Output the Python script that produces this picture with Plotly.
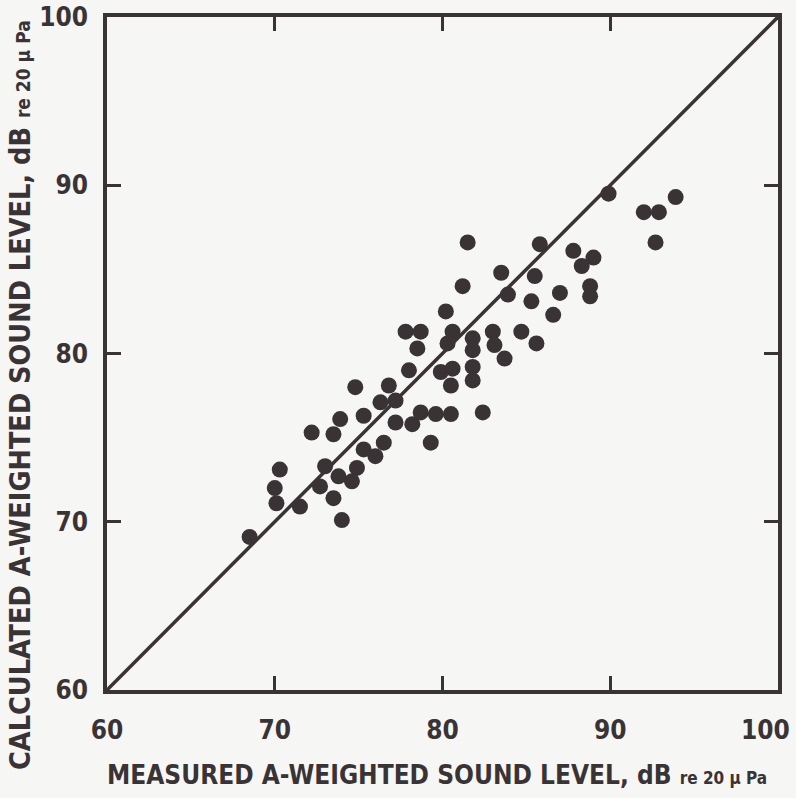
import plotly.graph_objects as go

# Measured (x) vs calculated (y) A-weighted sound level, dB re 20 uPa
measured = [68.5, 70.0, 70.1, 70.3, 71.5, 72.2, 72.7, 73.0, 73.5, 73.5,
            73.9, 74.0, 73.8, 74.6, 74.9, 75.3, 75.3, 76.0, 76.5, 74.8,
            76.3, 76.8, 77.2, 77.2, 78.0, 78.2, 78.7, 79.3, 79.6, 80.5,
            82.4, 77.8, 78.7, 78.5, 80.2, 80.6, 80.3, 81.8, 81.8, 83.0,
            83.1, 83.7, 79.9, 80.6, 81.8, 81.8, 80.5, 81.5, 81.2, 83.5,
            83.9, 85.8, 85.5, 85.3, 87.8, 89.0, 88.3, 87.0, 88.8, 88.8,
            86.6, 84.7, 85.6, 89.9, 93.9, 92.9, 92.0, 92.7]
calculated = [69.1, 72.0, 71.1, 73.1, 70.9, 75.3, 72.1, 73.3, 71.4, 75.2,
              76.1, 70.1, 72.7, 72.4, 73.2, 76.3, 74.3, 73.9, 74.7, 78.0,
              77.1, 78.1, 77.2, 75.9, 79.0, 75.8, 76.5, 74.7, 76.4, 76.4,
              76.5, 81.3, 81.3, 80.3, 82.5, 81.3, 80.6, 80.9, 80.2, 81.3,
              80.5, 79.7, 78.9, 79.1, 79.2, 78.4, 78.1, 86.6, 84.0, 84.8,
              83.5, 86.5, 84.6, 83.1, 86.1, 85.7, 85.2, 83.6, 84.0, 83.4,
              82.3, 81.3, 80.6, 89.5, 89.3, 88.4, 88.4, 86.6]

line_x = [60, 100]
line_y = [60, 100]
tick_vals = [60, 70, 80, 90, 100]
tick_text = ["60", "70", "80", "90", "100"]

x_title = "MEASURED A-WEIGHTED SOUND LEVEL, dB <span style='font-size:17px'>re 20 μ Pa</span>"
y_title = "CALCULATED A-WEIGHTED SOUND LEVEL, dB <span style='font-size:19px'>re 20 μ Pa</span>"

ink = "#3a3335"
bg = "#f6f6f4"
font_family = "DejaVu Sans Condensed, Liberation Sans Narrow, sans-serif"
tick_font = dict(family=font_family, size=26, color=ink, weight="bold")

fig = go.Figure()
fig.add_trace(go.Scatter(x=line_x, y=line_y, mode="lines",
                         line=dict(color=ink, width=3.5), hoverinfo="skip",
                         showlegend=False))
fig.add_trace(go.Scatter(x=measured, y=calculated, mode="markers",
                         marker=dict(color=ink, size=16, line=dict(width=0)),
                         showlegend=False))

axis_common = dict(
    tickvals=tick_vals, automargin=False,
    showgrid=False, zeroline=False, showline=True, linewidth=3.5,
    linecolor=ink, ticks="inside", ticklen=14, tickwidth=2.5, tickcolor=ink,
    mirror="ticks", ticklabeloverflow="allow", tickfont=tick_font,
)

# last x label is placed as an annotation so it stays inside the page
fig.update_xaxes(**axis_common, ticktext=tick_text[:-1] + [""],
                 range=[59.999, 100.001], ticklabelstandoff=14)
fig.update_yaxes(**axis_common, ticktext=tick_text,
                 range=[59.999, 100.001], ticklabelstandoff=10)

fig.add_annotation(text=tick_text[-1], x=tick_vals[-1], xref="x",
                   yref="paper", y=(690 - 730) / 673, xanchor="right",
                   yanchor="middle", xshift=14, showarrow=False, font=tick_font)

fig.add_annotation(text=x_title, xref="paper", yref="paper",
                   x=(437 - 107) / 671, y=(690 - 775) / 673,
                   xanchor="center", yanchor="middle", showarrow=False,
                   font=dict(family=font_family, size=26, color=ink, weight="bold"))
fig.add_annotation(text=y_title, xref="paper", yref="paper",
                   x=(20 - 107) / 671, y=(690 - 395) / 673, textangle=-90,
                   xanchor="center", yanchor="middle", showarrow=False,
                   font=dict(family=font_family, size=28.5, color=ink, weight="bold"))

fig.update_layout(
    width=796, height=798,
    margin=dict(l=107, r=18, t=17, b=108, autoexpand=False),
    paper_bgcolor=bg, plot_bgcolor=bg,
    showlegend=False,
)

fig.write_html("out.html")
